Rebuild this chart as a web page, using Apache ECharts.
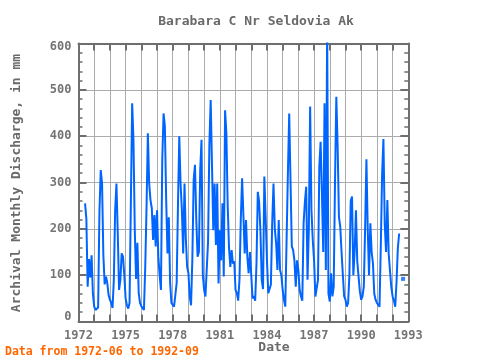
<!DOCTYPE html>
<html><head><meta charset="utf-8">
<script src="https://cdn.jsdelivr.net/npm/echarts@6.0.0/dist/echarts.min.js"></script>
<style>html,body{margin:0;padding:0;background:#fff}#c{width:480px;height:360px}</style>
</head><body><div id="c"></div>
<script>
// Monthly discharge (mm), data from 1972-06 to 1992-09
const firstYear = 1972;
const firstMonth = 6;
const y1972 = [255, 222, 75, 135, 95, 143, 60];
const y1973 = [32, 25, 25, 30, 237, 327, 298, 143, 80, 97, 83, 57];
const y1974 = [47, 40, 29, 90, 240, 298, 190, 68, 90, 147, 140, 100];
const y1975 = [50, 35, 28, 40, 255, 471, 392, 198, 92, 170, 62, 40];
const y1976 = [33, 29, 25, 118, 248, 406, 298, 262, 245, 176, 230, 162];
const y1977 = [240, 140, 100, 68, 349, 449, 421, 262, 147, 225, 85, 40];
const y1978 = [36, 32, 32, 83, 250, 400, 298, 240, 147, 298, 180, 118];
const y1979 = [104, 54, 35, 136, 306, 338, 220, 140, 150, 327, 392, 100];
const y1980 = [68, 54, 54, 172, 381, 478, 338, 197, 298, 165, 298, 82];
const y1981 = [197, 132, 255, 97, 456, 406, 250, 160, 118, 154, 125, 130];
const y1982 = [68, 61, 45, 90, 220, 309, 230, 147, 219, 140, 104, 150];
const y1983 = [100, 50, 55, 45, 125, 280, 259, 197, 90, 70, 313, 226];
const y1984 = [132, 61, 70, 80, 212, 298, 200, 169, 111, 219, 111, 100];
const y1985 = [68, 47, 32, 32, 320, 449, 305, 162, 154, 132, 75, 132];
const y1986 = [111, 68, 54, 45, 212, 259, 291, 90, 200, 464, 240, 176];
const y1987 = [132, 54, 50, 90, 334, 388, 277, 150, 471, 111, 640, 60];
const y1988 = [43, 104, 54, 75, 300, 485, 380, 226, 205, 150, 100, 54];
const y1989 = [47, 32, 40, 100, 260, 270, 100, 150, 240, 130, 97, 65];
const y1990 = [47, 54, 75, 200, 350, 200, 100, 212, 150, 125, 60, 47];
const y1991 = [40, 40, 32, 165, 320, 394, 210, 150, 262, 147, 110, 75];
const y1992 = [54, 45, 32, 85, 158, 190, null, null, 92];
const years = [y1972, y1973, y1974, y1975, y1976, y1977, y1978, y1979, y1980, y1981,
  y1982, y1983, y1984, y1985, y1986, y1987, y1988, y1989, y1990, y1991, y1992];
const xTickLabels = ['1972', '1975', '1978', '1981', '1984', '1987', '1990', '1993'];
const yTickLabels = ['0', '100', '200', '300', '400', '500', '600'];

const points = [];
years.forEach((arr, yi) => {
  const yr = firstYear + yi;
  const m0 = yi === 0 ? firstMonth : 1;
  arr.forEach((v, i) => points.push([yr + (m0 - 1 + i) / 12, v === null ? '-' : v]));
});
const isolated = points.filter((p, i) => p[1] !== '-' &&
  (i === 0 || points[i - 1][1] === '-') && (i === points.length - 1 || points[i + 1][1] === '-'));

const FONT = 'DejaVu Sans Mono';
const GREY = '#6e6e6e';
const txt = { fontFamily: FONT, fontSize: 12, fontWeight: 'bold', color: '#747474' };

function xAxisCfg(pos, labels) {
  return {
    type: 'value', position: pos, min: 1972, max: 1993, interval: 1,
    axisLine: { show: true, onZero: false, lineStyle: { color: GREY, width: 2 } },
    axisTick: { show: true, inside: true, length: 7, lineStyle: { color: GREY, width: 2 } },
    splitLine: { show: pos === 'bottom', lineStyle: { color: '#ababab', width: 1 } },
    axisLabel: {
      show: labels, margin: 8, ...txt,
      formatter: v => { const s = String(Math.round(v)); return xTickLabels.includes(s) ? s : ''; }
    }
  };
}
function yAxisCfg(pos, labels) {
  return {
    type: 'value', position: pos, min: 0, max: 600, interval: 100,
    axisLine: { show: true, onZero: false, lineStyle: { color: GREY, width: 2 } },
    axisTick: { show: true, inside: true, length: 8, lineStyle: { color: GREY, width: 2 } },
    minorTick: { show: true, splitNumber: 5, length: 4, lineStyle: { color: GREY, width: 1.5 } },
    splitLine: { show: pos === 'left', lineStyle: { color: '#ababab', width: 1 } },
    axisLabel: {
      show: labels, margin: 7, ...txt,
      formatter: v => {
        const s = String(Math.round(v));
        if (!yTickLabels.includes(s)) return '';
        if (s === '0') return '{lo|0}';
        if (s === '600') return '{hi|600}';
        return s;
      },
      rich: {
        lo: { ...txt, padding: [0, 0, 9, 0] },
        hi: { ...txt, padding: [6, 0, 0, 0] }
      }
    }
  };
}

const chart = echarts.init(document.getElementById('c'), null, { renderer: 'canvas' });
chart.setOption({
  backgroundColor: '#ffffff',
  animation: false,
  title: {
    text: 'Barabara C Nr Seldovia Ak', left: 251, top: 10, textAlign: 'center',
    textStyle: { fontFamily: FONT, fontSize: 13, fontWeight: 'bold', color: '#6a6a6a' }
  },
  grid: { left: 78.5, right: 71.7, top: 43.5, bottom: 38.5, containLabel: false, outerBoundsMode: 'none' },
  xAxis: [xAxisCfg('bottom', true), xAxisCfg('top', false)],
  yAxis: [yAxisCfg('left', true), yAxisCfg('right', false)],
  graphic: [
    { type: 'text', x: 17, y: 183, rotation: Math.PI / 2,
      style: { text: 'Archival Monthly Discharge, in mm', fontFamily: FONT, fontSize: 13, fontWeight: 'bold',
        fill: '#6a6a6a', textAlign: 'center', textVerticalAlign: 'middle' } },
    { type: 'text', x: 274, y: 348,
      style: { text: 'Date', fontFamily: FONT, fontSize: 13, fontWeight: 'bold',
        fill: '#6a6a6a', textAlign: 'center', textVerticalAlign: 'middle' } },
    { type: 'text', x: 5, y: 352,
      style: { text: 'Data from 1972-06 to 1992-09', fontFamily: FONT, fontSize: 11.5, fontWeight: 'bold',
        fill: '#ff6600', textAlign: 'left', textVerticalAlign: 'middle' } }
  ],
  series: [
    { type: 'line', data: points, showSymbol: false, connectNulls: false, clip: true,
      lineStyle: { color: '#0064ff', width: 2 }, itemStyle: { color: '#0064ff' } },
    { type: 'scatter', data: isolated, symbol: 'rect', symbolSize: 4,
      itemStyle: { color: '#0064ff' } }
  ]
});
</script></body></html>
